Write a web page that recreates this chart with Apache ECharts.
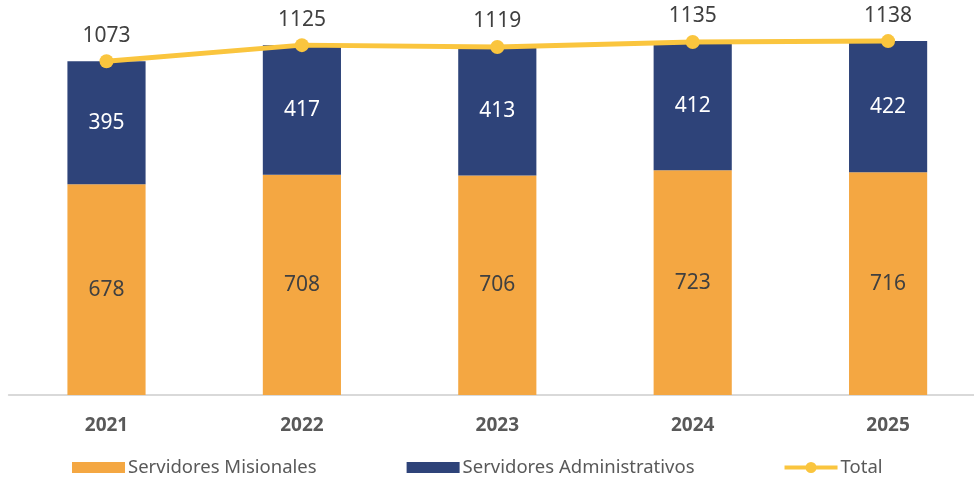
<!DOCTYPE html>
<html>
<head>
<meta charset="utf-8">
<script src="https://cdn.jsdelivr.net/npm/echarts@6/dist/echarts.min.js"></script>
<style>
html,body{margin:0;padding:0;background:#fff;}
#chart{width:974px;height:477px;}
</style>
</head>
<body>
<div id="chart"></div>
<script>
const categories = ['2021', '2022', '2023', '2024', '2025'];
const misionales = [678, 708, 706, 723, 716];
const administrativos = [395, 417, 413, 412, 422];
const total = [1073, 1125, 1119, 1135, 1138];
const seriesNames = ['Servidores Misionales', 'Servidores Administrativos', 'Total'];

const FONT = 'Noto Sans';
const YELLOW = '#FAC53E';
const LINE_ICON = 'path://M0,3.5 L23,3.5 L23,7.5 L0,7.5 Z M30,3.5 L53,3.5 L53,7.5 L30,7.5 Z M21,5.5 A5.5,5.5 0 1 1 32,5.5 A5.5,5.5 0 1 1 21,5.5 Z';
const chart = echarts.init(document.getElementById('chart'));
chart.setOption({
  animation: false,
  textStyle: { fontFamily: FONT },
  grid: { left: 8.8, width: 977, top: 21.8, bottom: 82, containLabel: false, outerBoundsMode: 'none' },
  legend: {
    left: 72, top: 458, padding: 0,
    itemWidth: 53, itemHeight: 11, itemGap: 90,
    textStyle: { fontFamily: FONT, fontSize: 18.5, color: '#595959', padding: [0, 0, 0, -2] },
    data: [
      { name: seriesNames[0], icon: 'rect' },
      { name: seriesNames[1], icon: 'rect' },
      { name: seriesNames[2], icon: LINE_ICON, itemStyle: { color: YELLOW } }
    ]
  },
  xAxis: {
    type: 'category',
    data: categories,
    axisLine: { lineStyle: { color: '#D9D9D9', width: 2 } },
    axisTick: { show: false },
    axisLabel: { fontFamily: FONT, fontSize: 19, fontWeight: 'bold', color: '#595959', margin: 21 }
  },
  yAxis: {
    type: 'value', min: 0, max: 1200, show: false,
    splitLine: { show: false }
  },
  series: [
    {
      name: seriesNames[0], type: 'bar', stack: 'a', data: misionales, barWidth: '40%',
      itemStyle: { color: '#F4A742' },
      label: { show: true, position: 'inside', fontFamily: FONT, fontSize: 21, color: '#404040' }
    },
    {
      name: seriesNames[1], type: 'bar', stack: 'a', data: administrativos, barWidth: '40%',
      itemStyle: { color: '#2E4379' },
      label: { show: true, position: 'inside', fontFamily: FONT, fontSize: 21, color: '#FFFFFF' }
    },
    {
      name: seriesNames[2], type: 'line', data: total,
      symbol: 'circle', symbolSize: 14,
      lineStyle: { color: YELLOW, width: 5 },
      itemStyle: { color: YELLOW },
      label: { show: true, position: 'top', distance: 8, fontFamily: FONT, fontSize: 21, color: '#404040' },
      z: 5
    }
  ]
});
</script>
</body>
</html>
